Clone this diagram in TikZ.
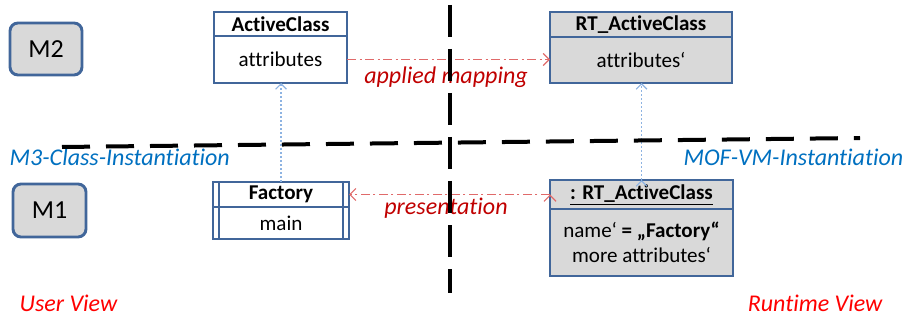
\documentclass[tikz,border=0pt]{standalone}
\usepackage{fontspec}
\setmainfont{Carlito}[Ligatures=CommonOff]
\usetikzlibrary{arrows.meta,positioning}
\definecolor{umlblue}{HTML}{41669A}
\definecolor{boxgray}{HTML}{D9D9D9}
\definecolor{linkred}{HTML}{E06A6A}
\definecolor{textred}{HTML}{C00000}
\definecolor{viewred}{HTML}{FF0000}
\definecolor{levelblue}{HTML}{0070C0}
\definecolor{instblue}{HTML}{8DB3E2}

\begin{document}
\begin{tikzpicture}[x=0.75pt, y=-0.75pt]
    \tikzstyle{level}=[shape=rectangle, rounded corners=6pt, fill=boxgray, draw=umlblue, line width=2.2pt, minimum width=54pt, minimum height=39pt, font=\fontsize{19.5}{22}\selectfont];
    \tikzstyle{head}=[shape=rectangle, draw=umlblue, line width=2.2pt, inner sep=0pt, outer sep=0pt, font=\fontsize{15.8}{18}\selectfont\bfseries];
    \tikzstyle{body}=[shape=rectangle, draw=umlblue, line width=2.2pt, inner sep=0pt, outer sep=0pt, align=center, font=\fontsize{15.8}{18.75}\selectfont];
    \tikzstyle{linklabel}=[text=textred, font=\fontsize{18}{21}\selectfont\itshape];
    \tikzstyle{levellabel}=[text=levelblue, font=\fontsize{18}{21}\selectfont\itshape];
    \tikzstyle{viewlabel}=[text=viewred, font=\fontsize{18}{21}\selectfont\itshape];
    \tikzstyle{separator}=[black, line width=3pt];

    \useasboundingbox (0,0) rectangle (905,320);

    \node[level](M2) at (46,49) {M2};
    \node[level, minimum width=54.75pt, minimum height=39.75pt](M1) at (49.5,210.5) {M1};

    \begin{scope}
        \node[head, fill=white, minimum width=99.75pt, minimum height=18pt, anchor=north](AC) at (280.5,12) {ActiveClass};
        \node[body, fill=white, minimum width=99.75pt, minimum height=35.25pt, below=0pt of AC](ACattr) {attributes};
    \end{scope}

    \begin{scope}
        \node[head, fill=boxgray, minimum width=136.5pt, minimum height=18.75pt, anchor=north](RT) at (641,12) {RT\_ActiveClass};
        \node[body, fill=boxgray, minimum width=136.5pt, minimum height=34.5pt, below=0pt of RT](RTattr) {attributes‘};
    \end{scope}

    \begin{scope}
        \node[head, fill=white, minimum width=102pt, minimum height=18.75pt, anchor=north](Fac) at (281,182) {Factory};
        \node[body, fill=white, minimum width=102pt, minimum height=24pt, below=0pt of Fac](FacMain) {main};
        \draw[umlblue, line width=1.7pt]
            ([xshift=4.5pt]Fac.north west) -- ([xshift=4.5pt]FacMain.south west)
            ([xshift=-4.5pt]Fac.north east) -- ([xshift=-4.5pt]FacMain.south east)
        ;
    \end{scope}

    \begin{scope}
        \node[head, fill=boxgray, minimum width=137.25pt, minimum height=21.75pt, anchor=north](Obj) at (641.5,180) {\underline{: RT\_ActiveClass}};
        \node[body, fill=boxgray, minimum width=137.25pt, minimum height=50.25pt, below=0pt of Obj](ObjAttr) {name‘ \textbf{= „Factory“}\\more attributes‘};
    \end{scope}

    \draw[-{Straight Barb[length=4.5pt, width=9pt]}, linkred, line width=0.9pt, dash pattern=on 7pt off 2.5pt on 1.5pt off 2.5pt]
        (ACattr.east) edge (ACattr.east -| RTattr.west)
        (Obj.west) edge (Obj.west -| Fac.east)
    ;

    \draw[-{Straight Barb[length=4pt, width=8pt]}, instblue, line width=0.9pt, dash pattern=on 1.5pt off 1.5pt]
        (Fac.north) edge (Fac.north |- ACattr.south)
        (Obj.north) edge (Obj.north |- RTattr.south)
    ;

    \node[linklabel](mapping) at (446,77) {applied mapping};
    \node[linklabel](presentation) at (446,208) {presentation};

    \node[levellabel, anchor=west](M3inst) at (5,157) {M3-Class-Instantiation};
    \node[levellabel, anchor=east](MOFinst) at (908,157) {MOF-VM-Instantiation};

    \node[viewlabel, anchor=west](user) at (15,303) {User View};
    \node[viewlabel, anchor=east](runtime) at (887,303) {Runtime View};

    \coordinate (vtop) at (450,5);
    \coordinate (vbottom) at (450,293);
    \coordinate (hleft) at (62,147);
    \coordinate (hright) at (860,138);
    \draw[separator, dash pattern=on 24pt off 9pt] (vtop) -- (vbottom);
    \draw[separator, dash pattern=on 21pt off 12pt] (hleft) -- (hright);
\end{tikzpicture}
\end{document}
